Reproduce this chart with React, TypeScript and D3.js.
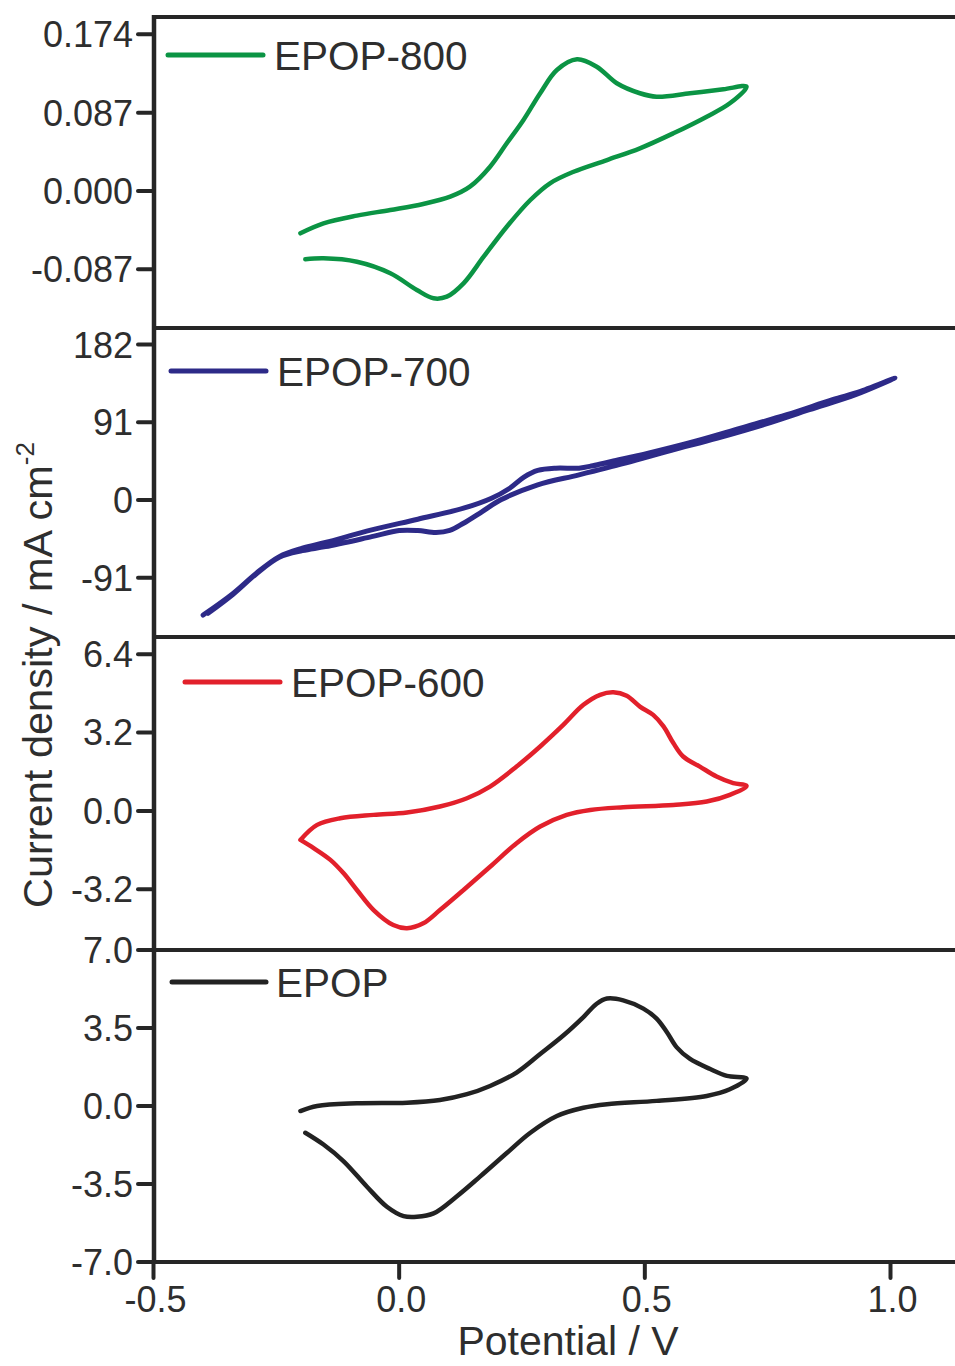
import React from "react";
import * as d3 from "d3";

// ---------- data (potential V, current density) ----------
const xTicks = [-0.5, 0.0, 0.5, 1.0];

const epop800: [number, number][] = [
  [-0.201, -0.047], [-0.154, -0.036], [-0.086, -0.0274], [-0.018, -0.0211], [0.049, -0.0144],
  [0.104, -0.0063], [0.144, 0.0048], [0.185, 0.027], [0.219, 0.053], [0.253, 0.0789],
  [0.287, 0.1086], [0.321, 0.1344], [0.362, 0.1463], [0.402, 0.1381], [0.443, 0.1197],
  [0.49, 0.1086], [0.524, 0.1048], [0.592, 0.1086], [0.66, 0.113], [0.707, 0.1159],
  [0.673, 0.0974], [0.626, 0.0826], [0.558, 0.0641], [0.49, 0.0474], [0.423, 0.0344],
  [0.355, 0.0214], [0.307, 0.0086], [0.267, -0.01], [0.219, -0.0397], [0.172, -0.073],
  [0.131, -0.1026], [0.097, -0.1174], [0.07, -0.1192], [0.036, -0.11], [-0.018, -0.0914],
  [-0.086, -0.0786], [-0.154, -0.0748], [-0.191, -0.0759],
];

const epop700: [number, number][] = [
  [-0.399, -134.7], [-0.338, -109.3], [-0.291, -85.9], [-0.244, -66.3], [-0.197, -56.5],
  [-0.15, -49.8], [-0.056, -35.0], [0.038, -22.5], [0.131, -9.6], [0.188, 2.1],
  [0.225, 13.8], [0.254, 26.8], [0.282, 34.6], [0.319, 37.3], [0.366, 37.3],
  [0.394, 40.1], [0.432, 45.1], [0.507, 54.9], [0.601, 68.6], [0.695, 84.2],
  [0.789, 99.9], [0.882, 117.5], [0.939, 127.2], [1.009, 142.9],
  [0.929, 123.3], [0.835, 105.8], [0.742, 88.2], [0.648, 72.5], [0.554, 58.1],
  [0.46, 43.2], [0.366, 29.5], [0.282, 17.8], [0.207, 0.2], [0.169, -13.5],
  [0.131, -27.2], [0.103, -35.7], [0.075, -38.1], [0.038, -35.7], [0.0, -35.7],
  [-0.056, -42.9], [-0.15, -54.6], [-0.197, -59.3], [-0.244, -67.1], [-0.291, -86.6],
  [-0.338, -110.4], [-0.389, -132.7],
];

const epop600: [number, number][] = [
  [-0.201, -1.185], [-0.167, -0.572], [-0.12, -0.3], [-0.052, -0.163], [0.016, -0.068],
  [0.083, 0.177], [0.138, 0.517], [0.185, 0.994], [0.239, 1.81], [0.287, 2.63],
  [0.334, 3.51], [0.375, 4.33], [0.409, 4.74], [0.436, 4.84], [0.463, 4.7],
  [0.49, 4.26], [0.517, 3.92], [0.538, 3.45], [0.558, 2.77], [0.578, 2.22],
  [0.612, 1.81], [0.646, 1.4], [0.68, 1.13], [0.707, 1.02],
  [0.673, 0.654], [0.626, 0.38], [0.558, 0.245], [0.456, 0.15], [0.389, 0.04],
  [0.341, -0.163], [0.287, -0.64], [0.239, -1.32], [0.185, -2.28], [0.131, -3.23],
  [0.083, -4.05], [0.049, -4.59], [0.016, -4.79], [-0.012, -4.66], [-0.052, -4.05],
  [-0.086, -3.23], [-0.113, -2.55], [-0.14, -2.0], [-0.174, -1.52], [-0.201, -1.185],
];

const epop: [number, number][] = [
  [-0.201, -0.226], [-0.167, 0.0], [-0.086, 0.12], [0.016, 0.15], [0.083, 0.27],
  [0.138, 0.53], [0.185, 0.9], [0.239, 1.5], [0.287, 2.33], [0.334, 3.16],
  [0.375, 3.99], [0.402, 4.59], [0.423, 4.82], [0.456, 4.74], [0.497, 4.37],
  [0.524, 3.92], [0.545, 3.31], [0.565, 2.63], [0.592, 2.11], [0.633, 1.66],
  [0.667, 1.35], [0.707, 1.23],
  [0.673, 0.75], [0.626, 0.45], [0.524, 0.23], [0.423, 0.08], [0.375, -0.08],
  [0.321, -0.45], [0.267, -1.2], [0.219, -2.11], [0.165, -3.16], [0.117, -4.06],
  [0.07, -4.82], [0.036, -4.97], [0.009, -4.94], [-0.025, -4.52], [-0.066, -3.61],
  [-0.113, -2.48], [-0.154, -1.73], [-0.191, -1.2],
];

const ticks800 = [-0.087, 0, 0.087, 0.174];
const labels800 = ["-0.087", "0.000", "0.087", "0.174"];
const ticks700 = [-91, 0, 91, 182];
const labels700 = ["-91", "0", "91", "182"];
const ticks600 = [-3.2, 0, 3.2, 6.4];
const labels600 = ["-3.2", "0.0", "3.2", "6.4"];
const ticksEpop = [-7, -3.5, 0, 3.5, 7];
const labelsEpop = ["-7.0", "-3.5", "0.0", "3.5", "7.0"];

const seriesNames = ["EPOP-800", "EPOP-700", "EPOP-600", "EPOP"];
const seriesColors = ["#0b9444", "#2d2a88", "#e2202b", "#222222"];

// ---------- layout ----------
const W = 955;
const H = 1366;
const axisLeft = 154;
const plotRight = 958;
const FONT = "'Liberation Sans', Arial, Helvetica, sans-serif";
const TEXT = "#2e2e2e";
const AXIS = "#262626";

const panels = [
  { name: seriesNames[0], color: seriesColors[0], data: epop800, domain: [-0.1522, 0.1933], range: [328, 17], ticks: ticks800, labels: labels800, legY: 55, legX: [168, 263], textX: 274, strokeW: 4.5 },
  { name: seriesNames[1], color: seriesColors[1], data: epop700, domain: [-160.4, 201.4], range: [637, 328], ticks: ticks700, labels: labels700, legY: 371, legX: [171, 266], textX: 277, strokeW: 5 },
  { name: seriesNames[2], color: seriesColors[2], data: epop600, domain: [-5.68, 7.1], range: [950, 637], ticks: ticks600, labels: labels600, legY: 682, legX: [185, 280], textX: 291, strokeW: 4.5 },
  { name: seriesNames[3], color: seriesColors[3], data: epop, domain: [-7, 7], range: [1262, 950], ticks: ticksEpop, labels: labelsEpop, legY: 982, legX: [172, 266], textX: 276, strokeW: 4.5 },
];

export default function App() {
  const x = d3.scaleLinear().domain([-0.5, 1.0]).range([153.5, 890.5]);
  const bottom = 1262;

  return (
    <svg
      width={W}
      height={H}
      viewBox={`0 0 ${W} ${H}`}
      style={{ position: "absolute", left: 0, top: 0, background: "#fff" }}
      fontFamily={FONT}
    >
      <rect x={0} y={0} width={W} height={H} fill="#fff" />
      {panels.map((p) => {
        const y = d3.scaleLinear().domain(p.domain).range(p.range);
        const line = d3
          .line<[number, number]>()
          .x((d) => x(d[0]))
          .y((d) => y(d[1]))
          .curve(d3.curveCatmullRom.alpha(0.5));
        return (
          <g key={p.name}>
            <path
              d={line(p.data) || ""}
              fill="none"
              stroke={p.color}
              strokeWidth={p.strokeW}
              strokeLinejoin="round"
              strokeLinecap="round"
            />
            <line x1={axisLeft} x2={plotRight} y1={p.range[1]} y2={p.range[1]} stroke={AXIS} strokeWidth={4} />
            {p.ticks.map((t, k) => (
              <g key={k}>
                <line x1={axisLeft - 16} x2={axisLeft} y1={y(t)} y2={y(t)} stroke={AXIS} strokeWidth={4} strokeLinecap="round" />
                <text x={133} y={y(t)} dy="0.36em" textAnchor="end" fontSize={36} fill={TEXT}>
                  {p.labels[k]}
                </text>
              </g>
            ))}
            <line x1={p.legX[0]} x2={p.legX[1]} y1={p.legY} y2={p.legY} stroke={p.color} strokeWidth={5} strokeLinecap="round" />
            <text x={p.textX} y={p.legY + 14.5} fontSize={40.5} fill={TEXT}>
              {p.name}
            </text>
          </g>
        );
      })}
      <line x1={axisLeft} x2={plotRight} y1={bottom} y2={bottom} stroke={AXIS} strokeWidth={4} />
      <line x1={axisLeft} x2={axisLeft} y1={15} y2={bottom + 2} stroke={AXIS} strokeWidth={4.5} />
      {xTicks.map((t) => (
        <g key={t}>
          <line x1={x(t)} x2={x(t)} y1={bottom} y2={bottom + 16} stroke={AXIS} strokeWidth={4} strokeLinecap="round" />
          <text x={x(t) + 2} y={1312} textAnchor="middle" fontSize={36} fill={TEXT}>
            {d3.format(".1f")(t).replace("−", "-")}
          </text>
        </g>
      ))}
      <text x={568} y={1355} textAnchor="middle" fontSize={41} fill={TEXT}>
        Potential / V
      </text>
      <text transform="translate(52, 908) rotate(-90)" textAnchor="start" fontSize={41.5} fill={TEXT}>
        Current density / mA cm
        <tspan dy={-18} fontSize={26}>
          -2
        </tspan>
      </text>
    </svg>
  );
}
